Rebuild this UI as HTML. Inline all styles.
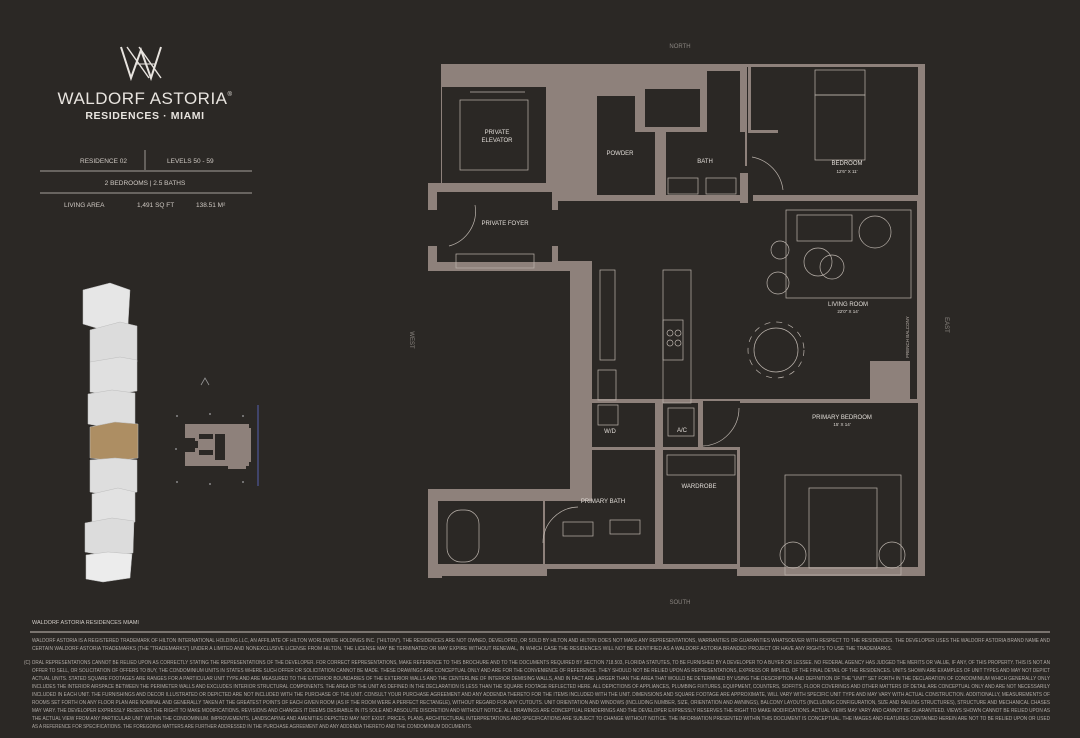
<!DOCTYPE html>
<html><head><meta charset="utf-8"><style>
html,body{margin:0;padding:0;background:#2b2825;}
body{width:1080px;height:738px;overflow:hidden;position:relative;font-family:"Liberation Sans",sans-serif;}
svg{position:absolute;left:0;top:0;}
</style></head><body>
<svg width="1080" height="738" viewBox="0 0 1080 738" xmlns="http://www.w3.org/2000/svg">
<rect width="1080" height="738" fill="#2b2825"/>
<!-- Logo -->
<g fill="none" stroke="#e8e4df" stroke-width="2">
<path d="M121 47 L131 78 L141 50 L151 78 L161 47"/>
<path d="M127 47 L149 78 M139 47 L161 78" stroke-width="1.4"/>
<path d="M135 64 L155 64" stroke-width="1"/>
</g>
<text x="145" y="104" text-anchor="middle" font-size="17" fill="#e8e4df" letter-spacing="0.5">WALDORF ASTORIA<tspan font-size="6" dy="-8">®</tspan></text>
<text x="145" y="119" text-anchor="middle" font-size="10.5" font-weight="bold" fill="#e8e4df" letter-spacing="0.6">RESIDENCES · MIAMI</text>
<g fill="#cfc9c3" font-size="6.5">
<text x="80" y="163">RESIDENCE 02</text>
<text x="167" y="163">LEVELS 50 - 59</text>
<text x="145" y="185" text-anchor="middle">2 BEDROOMS  |  2.5 BATHS</text>
<text x="64" y="207">LIVING AREA</text>
<text x="137" y="207">1,491 SQ FT</text>
<text x="196" y="207">138.51 M²</text>
</g>
<line x1="145" y1="150" x2="145" y2="170" stroke="#cfc9c3" stroke-width="0.7"/>
<line x1="40" y1="171" x2="252" y2="171" stroke="#cfc9c3" stroke-width="0.8"/>
<line x1="40" y1="193" x2="252" y2="193" stroke="#cfc9c3" stroke-width="0.8"/>

<!-- Tower -->
<g stroke="#bdbdbd" stroke-width="0.5">
<polygon points="83,290 110,283 130,290 128,325 103,330 83,324" fill="#e6e6e6"/>
<polygon points="90,330 120,322 137,326 137,362 110,366 90,362" fill="#dcdcdc"/>
<polygon points="90,362 120,357 137,360 137,391 110,395 90,392" fill="#e0e0e0"/>
<polygon points="88,394 112,390 135,393 135,424 110,428 88,424" fill="#dedede"/>
<polygon points="90,427 115,422 138,424 138,458 115,461 90,458" fill="#ad8e63"/>
<polygon points="90,460 115,458 137,460 137,492 112,496 90,492" fill="#dedede"/>
<polygon points="92,494 118,488 135,492 135,522 110,526 92,522" fill="#e2e2e2"/>
<polygon points="85,523 112,518 134,521 133,553 108,556 85,552" fill="#dcdcdc"/>
<polygon points="86,555 108,552 132,554 130,578 103,582 86,579" fill="#ececec"/>
</g>
<!-- keyplan -->
<path d="M201 385 L205 378 L209 385" fill="none" stroke="#999" stroke-width="0.8"/>
<g fill="#8e817b">
<rect x="185" y="424" width="64" height="14"/>
<rect x="185" y="452" width="64" height="14"/>
<rect x="195" y="430" width="36" height="32"/>
<rect x="228" y="424" width="18" height="45"/>
<rect x="235" y="428" width="16" height="34"/>
</g>
<g fill="#2b2825"><rect x="199" y="434" width="14" height="5"/><rect x="215" y="434" width="10" height="26"/><rect x="199" y="450" width="14" height="5"/><rect x="190" y="441" width="8" height="7"/></g>
<g fill="#888"><circle cx="177" cy="416" r="1"/><circle cx="210" cy="414" r="1"/><circle cx="243" cy="416" r="1"/><circle cx="176" cy="449" r="1"/><circle cx="177" cy="482" r="1"/><circle cx="210" cy="484" r="1"/><circle cx="243" cy="482" r="1"/></g>
<line x1="258" y1="405" x2="258" y2="486" stroke="#5560b0" stroke-width="1"/>

<!-- Plan walls -->
<g fill="#8e817b">
<rect x="441" y="64" width="484" height="512"/>
<rect x="428" y="183" width="14" height="88"/>
<rect x="428" y="489" width="14" height="89"/>
</g>
<g fill="#2b2825">
<rect x="428" y="271" width="142" height="218"/>
<rect x="442" y="87" width="104" height="96"/>
<rect x="437" y="192" width="115" height="70"/>
<rect x="428" y="210" width="10" height="36"/>
<rect x="551" y="210" width="8" height="36"/>
<rect x="558" y="201" width="225" height="60"/>
<rect x="592" y="261" width="325" height="138"/>
<rect x="592" y="266" width="325" height="133"/>
<rect x="783" y="201" width="134" height="198"/>
<rect x="747" y="67" width="171" height="128"/>
<rect x="666" y="132" width="79" height="63"/>
<rect x="645" y="89" width="55" height="38"/>
<rect x="707" y="71" width="33" height="61"/>
<rect x="597" y="96" width="38" height="99"/>
<rect x="635" y="132" width="20" height="63"/>
<rect x="745" y="166" width="8" height="35"/>
<rect x="592" y="403" width="63" height="44"/>
<rect x="663" y="403" width="35" height="44"/>
<rect x="703" y="401" width="37" height="46"/>
<rect x="740" y="403" width="178" height="164"/>
<rect x="663" y="450" width="74" height="114"/>
<rect x="592" y="450" width="63" height="51"/>
<rect x="545" y="501" width="110" height="63"/>
<rect x="438" y="501" width="105" height="63"/>
<rect x="547" y="569" width="190" height="10"/>
</g>
<g fill="#8e817b">
<rect x="870" y="361" width="40" height="38"/>
<rect x="748" y="67" width="3" height="66"/>
<rect x="748" y="130" width="30" height="3"/>
<rect x="740" y="173" width="8" height="30"/>
<rect x="753" y="195" width="165" height="6"/>
<rect x="545" y="507" width="2" height="57" opacity="0"/>
</g>
<!-- furniture lines -->
<g fill="none" stroke="#bcb4ad" stroke-width="0.7">
<rect x="460" y="100" width="68" height="70"/>
<line x1="470" y1="92" x2="525" y2="92"/>
<rect x="456" y="254" width="78" height="14"/>
<rect x="815" y="95" width="50" height="65"/>
<rect x="815" y="70" width="50" height="25"/>
<rect x="786" y="210" width="125" height="88"/>
<rect x="797" y="215" width="55" height="26"/>
<circle cx="818" cy="262" r="14"/><circle cx="832" cy="267" r="12"/>
<circle cx="780" cy="250" r="9"/><circle cx="778" cy="283" r="11"/>
<circle cx="875" cy="232" r="16"/>
<circle cx="776" cy="350" r="22"/>
<circle cx="776" cy="350" r="28" stroke-dasharray="6 6"/>
<rect x="663" y="270" width="28" height="133"/><rect x="663" y="320" width="20" height="40"/>
<circle cx="670" cy="333" r="3"/><circle cx="678" cy="333" r="3"/><circle cx="670" cy="343" r="3"/><circle cx="678" cy="343" r="3"/>
<rect x="600" y="270" width="15" height="90"/>
<rect x="598" y="370" width="18" height="30"/>
<rect x="785" y="475" width="116" height="100"/>
<rect x="809" y="488" width="68" height="80"/>
<circle cx="793" cy="555" r="13"/><circle cx="892" cy="555" r="13"/>
<rect x="447" y="510" width="32" height="52" rx="14"/>
<rect x="563" y="522" width="30" height="14"/><rect x="610" y="520" width="30" height="14"/>
<rect x="667" y="455" width="68" height="20"/>
<rect x="598" y="405" width="20" height="20"/>
<rect x="668" y="408" width="26" height="28"/>
<rect x="668" y="178" width="30" height="16"/><rect x="706" y="178" width="30" height="16"/>
<path d="M449 246 A36 36 0 0 0 475 205"/>
<path d="M753 200 A40 40 0 0 0 712 160" opacity="0"/>
<path d="M752 157 A38 38 0 0 1 783 190"/>
<path d="M703 446 A38 38 0 0 0 739 408"/>
<path d="M543 543 A36 36 0 0 1 578 507"/>
</g>
<!-- labels -->
<g fill="#e0dbd6" font-size="6" text-anchor="middle">
<text x="497" y="134">PRIVATE</text><text x="497" y="142">ELEVATOR</text>
<text x="505" y="225">PRIVATE FOYER</text>
<text x="620" y="155">POWDER</text>
<text x="705" y="163">BATH</text>
<text x="847" y="165">BEDROOM</text><text x="847" y="173" font-size="4.5">12'6" X 11'</text>
<text x="848" y="306">LIVING ROOM</text><text x="848" y="313" font-size="4.5">22'0" X 14'</text>
<text x="842" y="419">PRIMARY BEDROOM</text><text x="842" y="426" font-size="4.5">15' X 14'</text>
<text x="610" y="433">W/D</text>
<text x="682" y="432">A/C</text>
<text x="699" y="488">WARDROBE</text>
<text x="603" y="503">PRIMARY BATH</text>
<text x="680" y="48" fill="#8a8580">NORTH</text>
<text x="680" y="604" fill="#8a8580">SOUTH</text>
</g>
<text transform="translate(410,340) rotate(90)" font-size="6" fill="#8a8580" text-anchor="middle">WEST</text>
<text transform="translate(945,325) rotate(90)" font-size="6" fill="#8a8580" text-anchor="middle">EAST</text>
<text transform="translate(909,337) rotate(-90)" font-size="4.5" fill="#bcb4ad" text-anchor="middle">FRENCH BALCONY</text>

<!-- footer -->
<text x="32" y="624" font-size="5.5" fill="#d0cbc6">WALDORF ASTORIA RESIDENCES MIAMI</text>
<rect x="30" y="631" width="1020" height="2" fill="#7a746f"/>
<g fill="#b0aaa5" font-size="5.2">
<text x="32" y="642" textLength="1018" lengthAdjust="spacingAndGlyphs">WALDORF ASTORIA IS A REGISTERED TRADEMARK OF HILTON INTERNATIONAL HOLDING LLC, AN AFFILIATE OF HILTON WORLDWIDE HOLDINGS INC. ("HILTON"). THE RESIDENCES ARE NOT OWNED, DEVELOPED, OR SOLD BY HILTON AND HILTON DOES NOT MAKE ANY REPRESENTATIONS, WARRANTIES OR GUARANTIES WHATSOEVER WITH RESPECT TO THE RESIDENCES. THE DEVELOPER USES THE WALDORF ASTORIA BRAND NAME AND</text>
<text x="32" y="650" textLength="860" lengthAdjust="spacingAndGlyphs">CERTAIN WALDORF ASTORIA TRADEMARKS (THE "TRADEMARKS") UNDER A LIMITED AND NONEXCLUSIVE LICENSE FROM HILTON. THE LICENSE MAY BE TERMINATED OR MAY EXPIRE WITHOUT RENEWAL, IN WHICH CASE THE RESIDENCES WILL NOT BE IDENTIFIED AS A WALDORF ASTORIA BRANDED PROJECT OR HAVE ANY RIGHTS TO USE THE TRADEMARKS.</text>
<text x="24" y="664" textLength="1026" lengthAdjust="spacingAndGlyphs">(C) ORAL REPRESENTATIONS CANNOT BE RELIED UPON AS CORRECTLY STATING THE REPRESENTATIONS OF THE DEVELOPER. FOR CORRECT REPRESENTATIONS, MAKE REFERENCE TO THIS BROCHURE AND TO THE DOCUMENTS REQUIRED BY SECTION 718.503, FLORIDA STATUTES, TO BE FURNISHED BY A DEVELOPER TO A BUYER OR LESSEE. NO FEDERAL AGENCY HAS JUDGED THE MERITS OR VALUE, IF ANY, OF THIS PROPERTY. THIS IS NOT AN</text>
<text x="32" y="672" textLength="1018" lengthAdjust="spacingAndGlyphs">OFFER TO SELL, OR SOLICITATION OF OFFERS TO BUY, THE CONDOMINIUM UNITS IN STATES WHERE SUCH OFFER OR SOLICITATION CANNOT BE MADE. THESE DRAWINGS ARE CONCEPTUAL ONLY AND ARE FOR THE CONVENIENCE OF REFERENCE. THEY SHOULD NOT BE RELIED UPON AS REPRESENTATIONS, EXPRESS OR IMPLIED, OF THE FINAL DETAIL OF THE RESIDENCES. UNITS SHOWN ARE EXAMPLES OF UNIT TYPES AND MAY NOT DEPICT</text>
<text x="32" y="680" textLength="1018" lengthAdjust="spacingAndGlyphs">ACTUAL UNITS. STATED SQUARE FOOTAGES ARE RANGES FOR A PARTICULAR UNIT TYPE AND ARE MEASURED TO THE EXTERIOR BOUNDARIES OF THE EXTERIOR WALLS AND THE CENTERLINE OF INTERIOR DEMISING WALLS, AND IN FACT ARE LARGER THAN THE AREA THAT WOULD BE DETERMINED BY USING THE DESCRIPTION AND DEFINITION OF THE "UNIT" SET FORTH IN THE DECLARATION OF CONDOMINIUM WHICH GENERALLY ONLY</text>
<text x="32" y="688" textLength="1018" lengthAdjust="spacingAndGlyphs">INCLUDES THE INTERIOR AIRSPACE BETWEEN THE PERIMETER WALLS AND EXCLUDES INTERIOR STRUCTURAL COMPONENTS. THE AREA OF THE UNIT AS DEFINED IN THE DECLARATION IS LESS THAN THE SQUARE FOOTAGE REFLECTED HERE. ALL DEPICTIONS OF APPLIANCES, PLUMBING FIXTURES, EQUIPMENT, COUNTERS, SOFFITS, FLOOR COVERINGS AND OTHER MATTERS OF DETAIL ARE CONCEPTUAL ONLY AND ARE NOT NECESSARILY</text>
<text x="32" y="696" textLength="1018" lengthAdjust="spacingAndGlyphs">INCLUDED IN EACH UNIT. THE FURNISHINGS AND DECOR ILLUSTRATED OR DEPICTED ARE NOT INCLUDED WITH THE PURCHASE OF THE UNIT. CONSULT YOUR PURCHASE AGREEMENT AND ANY ADDENDA THERETO FOR THE ITEMS INCLUDED WITH THE UNIT. DIMENSIONS AND SQUARE FOOTAGE ARE APPROXIMATE, WILL VARY WITH SPECIFIC UNIT TYPE AND MAY VARY WITH ACTUAL CONSTRUCTION. ADDITIONALLY, MEASUREMENTS OF</text>
<text x="32" y="704" textLength="1018" lengthAdjust="spacingAndGlyphs">ROOMS SET FORTH ON ANY FLOOR PLAN ARE NOMINAL AND GENERALLY TAKEN AT THE GREATEST POINTS OF EACH GIVEN ROOM (AS IF THE ROOM WERE A PERFECT RECTANGLE), WITHOUT REGARD FOR ANY CUTOUTS. UNIT ORIENTATION AND WINDOWS (INCLUDING NUMBER, SIZE, ORIENTATION AND AWNINGS), BALCONY LAYOUTS (INCLUDING CONFIGURATION, SIZE AND RAILING STRUCTURES), STRUCTURE AND MECHANICAL CHASES</text>
<text x="32" y="712" textLength="1018" lengthAdjust="spacingAndGlyphs">MAY VARY. THE DEVELOPER EXPRESSLY RESERVES THE RIGHT TO MAKE MODIFICATIONS, REVISIONS AND CHANGES IT DEEMS DESIRABLE IN ITS SOLE AND ABSOLUTE DISCRETION AND WITHOUT NOTICE. ALL DRAWINGS ARE CONCEPTUAL RENDERINGS AND THE DEVELOPER EXPRESSLY RESERVES THE RIGHT TO MAKE MODIFICATIONS. ACTUAL VIEWS MAY VARY AND CANNOT BE GUARANTEED. VIEWS SHOWN CANNOT BE RELIED UPON AS</text>
<text x="32" y="720" textLength="1018" lengthAdjust="spacingAndGlyphs">THE ACTUAL VIEW FROM ANY PARTICULAR UNIT WITHIN THE CONDOMINIUM. IMPROVEMENTS, LANDSCAPING AND AMENITIES DEPICTED MAY NOT EXIST. PRICES, PLANS, ARCHITECTURAL INTERPRETATIONS AND SPECIFICATIONS ARE SUBJECT TO CHANGE WITHOUT NOTICE. THE INFORMATION PRESENTED WITHIN THIS DOCUMENT IS CONCEPTUAL. THE IMAGES AND FEATURES CONTAINED HEREIN ARE NOT TO BE RELIED UPON OR USED</text>
<text x="32" y="728" textLength="440" lengthAdjust="spacingAndGlyphs">AS A REFERENCE FOR SPECIFICATIONS. THE FOREGOING MATTERS ARE FURTHER ADDRESSED IN THE PURCHASE AGREEMENT AND ANY ADDENDA THERETO AND THE CONDOMINIUM DOCUMENTS.</text>
</g>
</svg>
</body></html>
